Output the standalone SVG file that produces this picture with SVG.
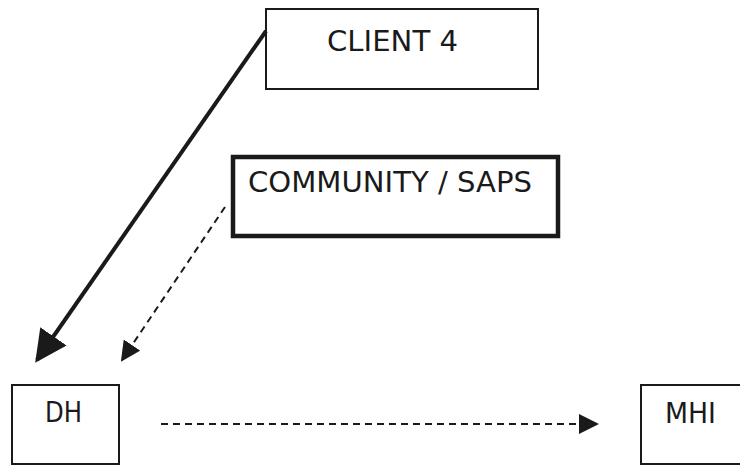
<svg xmlns="http://www.w3.org/2000/svg" width="740" height="465" viewBox="0 0 740 465">
<defs>
<style>
.box{fill:#fff;stroke:#1a1a1a;stroke-width:2}
.thick{fill:#fff;stroke:#1a1a1a;stroke-width:4.5}
.lbl{font-family:"DejaVu Sans","Liberation Sans",sans-serif;font-size:29px;fill:#1a1a1a}
.solid{fill:none;stroke:#1a1a1a;stroke-width:4}
.dash{fill:none;stroke:#1a1a1a;stroke-width:2;stroke-dasharray:7,5}
</style>
<marker id="big" viewBox="0 0 10 10" refX="9" refY="5" markerWidth="8" markerHeight="8" markerUnits="strokeWidth" orient="auto">
<path d="M0,0 L10,5 L0,10 z" fill="#1a1a1a"/>
</marker>
<marker id="small" viewBox="0 0 10 10" refX="9" refY="5" markerWidth="10" markerHeight="10" markerUnits="strokeWidth" orient="auto">
<path d="M0,0 L10,5 L0,10 z" fill="#1a1a1a"/>
</marker>
</defs>
<g id="client4">
<rect class="box" x="266" y="9" width="272" height="80"/>
<text class="lbl" x="327" y="51" textLength="131" lengthAdjust="spacingAndGlyphs">CLIENT 4</text>
</g>
<g id="community">
<rect class="thick" x="233" y="157" width="325" height="79"/>
<text class="lbl" x="248" y="192" textLength="284" lengthAdjust="spacingAndGlyphs">COMMUNITY / SAPS</text>
</g>
<g id="dh">
<rect class="box" x="12" y="385" width="107" height="79"/>
<text class="lbl" x="45" y="422" textLength="37" lengthAdjust="spacingAndGlyphs">DH</text>
</g>
<g id="mhi">
<rect class="box" x="641" y="385" width="110" height="79"/>
<text class="lbl" x="665" y="423" textLength="51" lengthAdjust="spacingAndGlyphs">MHI</text>
</g>
<g id="connectors">
<path class="solid" d="M266,31 L37,360" marker-end="url(#big)"/>
<path class="dash" d="M225,207 L122,360" marker-end="url(#small)"/>
<path class="dash" d="M161,424 L597,424" marker-end="url(#small)"/>
</g>
</svg>
